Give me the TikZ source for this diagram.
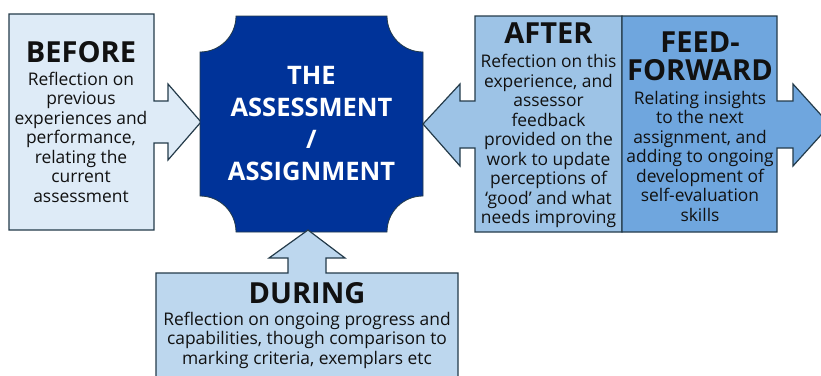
\documentclass[tikz,border=0pt]{standalone}
\usepackage{fontspec}
\setmainfont{Open Sans}
\definecolor{edge}{HTML}{243B4A}
\definecolor{beforefill}{HTML}{DEEBF7}
\definecolor{duringfill}{HTML}{BDD7EE}
\definecolor{afterfill}{HTML}{9DC3E6}
\definecolor{fffill}{HTML}{6FA6DE}
\definecolor{centerfill}{HTML}{003399}
\definecolor{txt}{HTML}{111111}
\tikzset{
  shapeline/.style={draw=edge, line width=1.2pt, line join=miter},
  bodytext/.style={inner sep=0pt, align=center, text=txt, font=\fontsize{17.4}{19.5}\selectfont},
  titletext/.style={inner sep=0pt, align=center, text=txt, font=\fontsize{29}{28}\selectfont\bfseries},
  centertext/.style={inner sep=0pt, align=center, text=white, font=\fontsize{25.5}{32}\selectfont\bfseries},
}
\begin{document}
\begin{tikzpicture}[x=1pt,y=-1pt]
\useasboundingbox (0,0) rectangle (821,375);
\clip (0,0) rectangle (821,375);
% BEFORE callout
\draw[shapeline, fill=beforefill] (9,14) -- (154,14) -- (154,101) -- (168,101) -- (168,84) -- (201,122) -- (168,160) -- (168,143) -- (154,143) -- (154,230) -- (9,230) -- cycle;
% centre plaque
\draw[draw=edge, line width=0.8pt, fill=centerfill] (236,16) -- (387,16) .. controls (387,35.9) and (403.1,52) .. (423,52) -- (423,196) .. controls (403.1,196) and (387,212.1) .. (387,232) -- (236,232) .. controls (236,212.1) and (219.9,196) .. (200,196) -- (200,52) .. controls (219.9,52) and (236,35.9) .. (236,16) -- cycle;
% AFTER part
\draw[shapeline, fill=afterfill] (622,16) -- (475,16) -- (475,101) -- (460,101) -- (460,84) -- (423,124) -- (460,166) -- (460,148) -- (475,148) -- (475,232) -- (622,232) -- cycle;
% FEED-FORWARD part
\draw[shapeline, fill=fffill] (622,16) -- (777,16) -- (777,101) -- (793,101) -- (793,84) -- (830,125) -- (793,166) -- (793,148) -- (777,148) -- (777,232) -- (622,232) -- cycle;
% DURING callout
\draw[shapeline, fill=duringfill] (156,273) -- (288,273) -- (288,258) -- (269,258) -- (308,230) -- (345,258) -- (326,258) -- (326,273) -- (458,273) -- (458,385) -- (156,385) -- cycle;
% texts
\node[titletext] (beforeT) at (81,52) {BEFORE};
\node[bodytext] (beforeB) at (81,137) {Reflection on\\previous\\experiences and\\performance,\\relating the\\current\\assessment};
\node[centertext] (centerT) at (311.5,124) {THE\\ASSESSMENT\\/\\ASSIGNMENT};
\node[titletext] (afterT) at (548.5,33) {AFTER};
\node[bodytext] (afterB) at (548.5,141) {Refection on this\\experience, and\\assessor\\feedback\\provided on the\\work to update\\perceptions of\\‘good’ and what\\needs improving};
\node[titletext] (ffT) at (700,56) {FEED-\\FORWARD};
\node[bodytext] (ffB) at (700,156) {Relating insights\\to the next\\assignment, and\\adding to ongoing\\development of\\self-evaluation\\skills};
\node[titletext] (duringT) at (307,293) {DURING};
\node[bodytext] (duringB) at (307,340) {Reflection on ongoing progress and\\capabilities, though comparison to\\marking criteria, exemplars etc};
\end{tikzpicture}
\end{document}
